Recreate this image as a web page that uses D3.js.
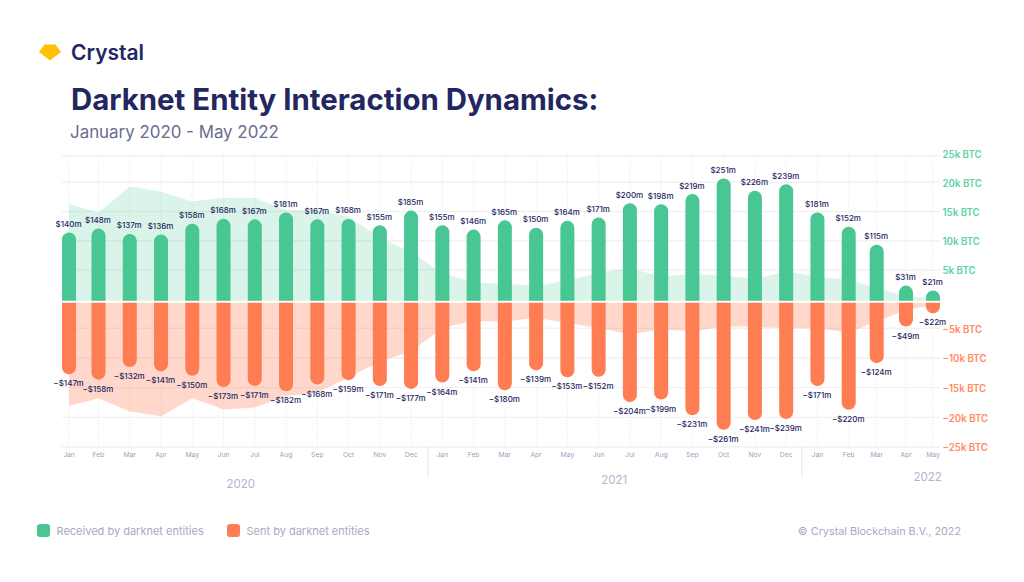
<!DOCTYPE html>
<html>
<head>
<meta charset="utf-8">
<script src="https://cdn.jsdelivr.net/npm/d3@7"></script>
<style>
  html, body { margin: 0; padding: 0; background: #fff; overflow: hidden; }
  text { font-family: Inter, "Noto Sans", sans-serif; }
</style>
</head>
<body>
<script>
const months = ['Jan','Feb','Mar','Apr','May','Jun','Jul','Aug','Sep','Oct','Nov','Dec',
                'Jan','Feb','Mar','Apr','May','Jun','Jul','Aug','Sep','Oct','Nov','Dec',
                'Jan','Feb','Mar','Apr','May'];
// labels above/below the bars, in million USD
const receivedUsd = [140,148,137,136,158,168,167,181,167,168,155,185,
                     155,146,165,150,164,171,200,198,219,251,226,239,
                     181,152,115,31,21];
const sentUsd = [147,158,132,141,150,173,171,182,168,159,171,177,
                 164,141,180,139,153,152,204,199,231,261,241,239,
                 171,220,124,49,22];
// background areas, in thousand BTC
const receivedBtc = [16.3,14.8,19.3,18.4,16.7,17.3,17.3,15.2,15.2,14.1,10.5,8.0,
                     4.5,2.8,2.7,2.3,3.2,4.5,5.3,3.9,4.3,4.0,3.5,4.7,
                     3.9,3.3,2.0,0.4,0.2];
const sentBtc = [18.1,16.8,19.0,19.8,16.8,18.7,18.35,16.45,15.8,13.3,10.6,8.9,
                 4.95,3.75,3.85,3.2,4.1,4.95,6.0,5.2,5.5,4.7,4.7,5.0,
                 5.0,5.7,3.85,1.85,1.0];
const btcTicks = [25,20,15,10,5,-5,-10,-15,-20,-25];
const years = [{label:'2020', at:5.55}, {label:'2021', at:17.5}, {label:'2022', at:27.8}];
const yearBreaks = [11.54, 23.5];

const navy = '#23275f', green = '#48c693', orange = '#ff7d52';

const svg = d3.select('body').append('svg')
    .attr('width', 1024)
    .attr('height', 582);

const x = d3.scaleLinear()
    .domain([0, 1, 25, 26, 27, 28])
    .range([69, 98.5, 848.7, 876.7, 906, 933]);

const yBtc = d3.scaleLinear()
    .domain([-25, -5, 5, 20, 25])
    .range([447, 328.3, 270, 182.3, 155.7]);

const yUsd = d3.scaleLinear()
    .domain([-300, 300])
    .range([447.8, 155.6]);

const idx = d3.range(months.length);
const left = 62, right = 940;

// header
svg.append('path')
    .attr('d', 'M39 52L44.5 44.5H55.5L61 52L50 60.5Z')
    .attr('fill', '#ffc107');
svg.append('text').attr('x', 71).attr('y', 60)
    .text('Crystal')
    .style('font-size', '21px').style('font-weight', 600).attr('fill', navy);
svg.append('text').attr('x', 71).attr('y', 110)
    .text('Darknet Entity Interaction Dynamics:')
    .style('font-size', '29.4px').style('font-weight', 700).attr('fill', navy);
svg.append('text').attr('x', 70).attr('y', 138)
    .text('January 2020 - May 2022')
    .style('font-size', '16.9px').attr('fill', '#6a6d92');

// grid
svg.append('g').selectAll('line')
    .data(btcTicks)
    .join('line')
    .attr('x1', left).attr('x2', right)
    .attr('y1', d => yBtc(d)).attr('y2', d => yBtc(d))
    .attr('stroke', '#f1f1f4').attr('stroke-width', 1.4);
svg.append('g').selectAll('line')
    .data(idx)
    .join('line')
    .attr('x1', d => x(d)).attr('x2', d => x(d))
    .attr('y1', yBtc(25)).attr('y2', yBtc(-25))
    .attr('stroke', '#e6e6ec').attr('stroke-width', 0.7)
    .attr('stroke-dasharray', '1.5 1.5');

// areas
const areaUp = d3.area()
    .x(d => x(d))
    .y0(yUsd(0))
    .y1(d => yBtc(receivedBtc[d]));
const areaDown = d3.area()
    .x(d => x(d))
    .y0(yUsd(0))
    .y1(d => yBtc(-sentBtc[d]));
svg.append('path').datum(idx).attr('d', areaUp).attr('fill', green).attr('opacity', 0.2);
svg.append('path').datum(idx).attr('d', areaDown).attr('fill', orange).attr('opacity', 0.3);
svg.append('line')
    .attr('x1', x(0)).attr('x2', x(28))
    .attr('y1', yUsd(0)).attr('y2', yUsd(0))
    .attr('stroke', '#fff').attr('stroke-width', 2);

// bars with a rounded far end
const barW = 14, gap = 1;
function barPath(i, v, dir) {
  const p = d3.path(), cx = x(i), r = barW / 2;
  const base = yUsd(0) + dir * gap, end = yUsd(0) + dir * (gap + Math.abs(yUsd(v) - yUsd(0)));
  p.moveTo(cx - r, base);
  p.lineTo(cx - r, end - dir * r);
  p.arc(cx, end - dir * r, r, Math.PI, 0, dir > 0);
  p.lineTo(cx + r, base);
  p.closePath();
  return p.toString();
}
svg.append('g').selectAll('path')
    .data(idx)
    .join('path')
    .attr('d', d => barPath(d, receivedUsd[d], -1))
    .attr('fill', green);
svg.append('g').selectAll('path')
    .data(idx)
    .join('path')
    .attr('d', d => barPath(d, sentUsd[d], 1))
    .attr('fill', orange);

// value labels
svg.append('g').selectAll('text')
    .data(idx)
    .join('text')
    .attr('x', d => x(d) - 0.5)
    .attr('y', d => yUsd(receivedUsd[d]) - 6.5)
    .attr('text-anchor', 'middle')
    .attr('fill', navy)
    .style('font-size', '8px').style('font-weight', 500)
    .text(d => `$${receivedUsd[d]}m`);
svg.append('g').selectAll('text')
    .data(idx)
    .join('text')
    .attr('x', d => x(d) - 0.5)
    .attr('y', d => yUsd(-sentUsd[d]) + 13)
    .attr('text-anchor', 'middle')
    .attr('fill', navy)
    .style('font-size', '8px').style('font-weight', 500)
    .text(d => `\u2212$${sentUsd[d]}m`);

// right axis
const yAxis = svg.append('g')
    .attr('transform', `translate(${right + 2.5},0.6)`)
    .call(d3.axisRight(yBtc).tickValues(btcTicks).tickSize(0).tickPadding(0)
      .tickFormat(d => `${d < 0 ? '\u2212' : ''}${Math.abs(d)}k BTC`));
yAxis.select('.domain').remove();
yAxis.selectAll('text')
    .attr('fill', d => d > 0 ? '#5ed3a3' : '#ff8a63')
    .attr('dy', d => d === 25 ? '0.1em' : '0.32em')
    .style('font-size', '9.7px').style('font-weight', 600);

// month axis
const xAxis = svg.append('g')
    .attr('transform', `translate(-0.5,${yBtc(-25)})`)
    .call(d3.axisBottom(x).tickValues(idx).tickSize(0).tickPadding(5.5)
      .tickFormat(d => months[d]));
xAxis.select('.domain').remove();
xAxis.selectAll('text').attr('fill', '#9c9fbd').style('font-size', '6.8px');

// year separators and labels
svg.append('g').selectAll('line')
    .data(yearBreaks)
    .join('line')
    .attr('x1', d => x(d)).attr('x2', d => x(d))
    .attr('y1', yBtc(-25)).attr('y2', yBtc(-25) + 30)
    .attr('stroke', '#e6e6ec');
svg.append('g').selectAll('text')
    .data(years)
    .join('text')
    .attr('x', d => x(d.at))
    .attr('y', d => d.label === '2020' ? 487.5 : d.label === '2021' ? 484 : 481)
    .attr('text-anchor', 'middle')
    .attr('fill', '#b2b4cc')
    .style('font-size', '11.5px')
    .text(d => d.label);

// legend
const legend = svg.append('g').selectAll('g')
    .data([{label:'Received by darknet entities', color:green, at:37},
           {label:'Sent by darknet entities', color:orange, at:227}])
    .join('g')
    .attr('transform', d => `translate(${d.at},524)`);
legend.append('rect')
    .attr('width', 13).attr('height', 13).attr('rx', 3)
    .attr('fill', d => d.color);
legend.append('text')
    .attr('x', 19.5).attr('y', 10.5)
    .attr('fill', '#a7a9c2')
    .style('font-size', '11px')
    .text(d => d.label);

svg.append('text').attr('x', 961).attr('y', 535)
    .attr('text-anchor', 'end')
    .attr('fill', '#a7a9c2')
    .style('font-size', '10.8px')
    .text('\u00a9 Crystal Blockchain B.V., 2022');
</script>
</body>
</html>
